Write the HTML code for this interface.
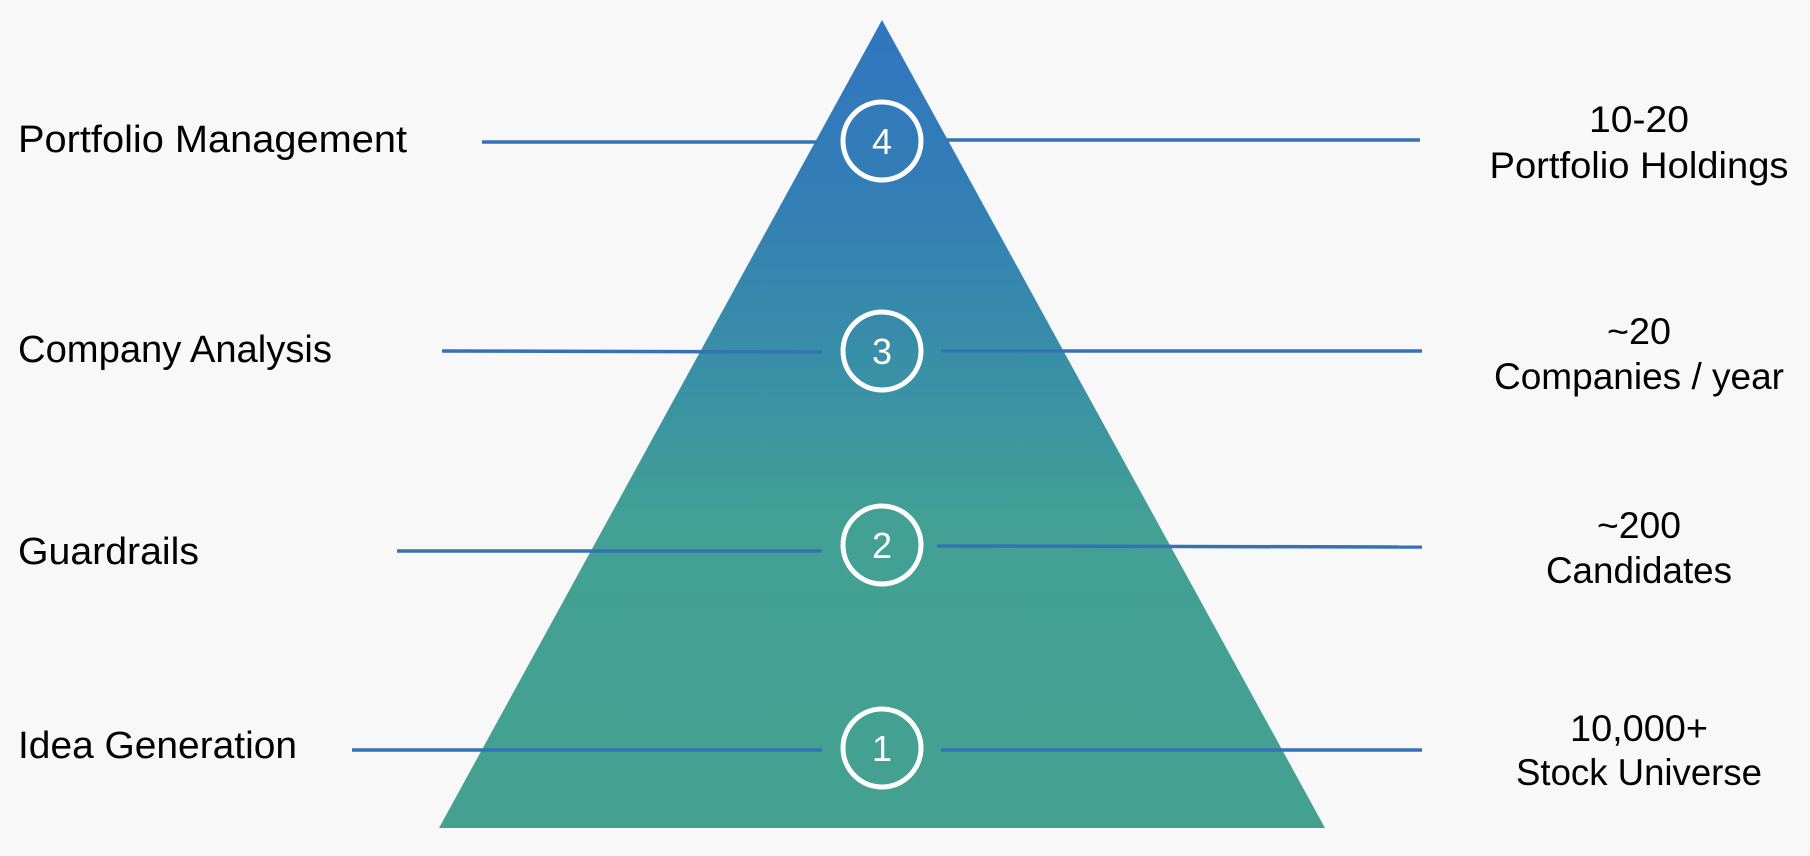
<!DOCTYPE html>
<html><head><meta charset="utf-8"><style>
html,body{margin:0;padding:0;background:#f8f8f8;}
svg{display:block}
text{font-family:"Liberation Sans",sans-serif;}
</style></head><body>
<svg width="1810" height="856" viewBox="0 0 1810 856" xmlns="http://www.w3.org/2000/svg">
<defs>
<linearGradient id="g" x1="0" y1="20" x2="0" y2="828" gradientUnits="userSpaceOnUse">
<stop offset="0" stop-color="#3176be"/>
<stop offset="0.2" stop-color="#337db7"/>
<stop offset="0.45" stop-color="#3a91a5"/>
<stop offset="0.62" stop-color="#42a094"/>
<stop offset="1" stop-color="#44a191"/>
</linearGradient>
</defs>
<rect width="1810" height="856" fill="#f8f8f8"/>
<polygon points="882,20 439,828 1325,828" fill="url(#g)"/>
<g stroke="#3472b5" stroke-width="3.5">
<line x1="482" y1="142" x2="817" y2="142"/><line x1="947" y1="140" x2="1420" y2="140"/>
<line x1="442" y1="351" x2="822" y2="352"/><line x1="941" y1="351" x2="1422" y2="351"/>
<line x1="397" y1="551" x2="822" y2="551"/><line x1="937" y1="546" x2="1422" y2="547"/>
<line x1="352" y1="750" x2="822" y2="750"/><line x1="941" y1="750" x2="1422" y2="750"/>
</g>
<g fill="none" stroke="#fff" stroke-width="5">
<circle cx="882" cy="141" r="39"/><circle cx="882" cy="351" r="39"/>
<circle cx="882" cy="545" r="39"/><circle cx="882" cy="748" r="39"/>
</g>
<g fill="#fff" font-size="36" text-anchor="middle">
<text x="882" y="154">4</text><text x="882" y="364">3</text>
<text x="882" y="558">2</text><text x="882" y="761">1</text>
</g>
<g fill="#000" font-size="38">
<text x="18" y="152" textLength="389" lengthAdjust="spacingAndGlyphs">Portfolio Management</text>
<text x="18" y="362" textLength="314" lengthAdjust="spacingAndGlyphs">Company Analysis</text>
<text x="18" y="564" textLength="181" lengthAdjust="spacingAndGlyphs">Guardrails</text>
<text x="18" y="758" textLength="279" lengthAdjust="spacingAndGlyphs">Idea Generation</text>
</g>
<g fill="#000" font-size="37" text-anchor="middle">
<text x="1639" y="132" textLength="100" lengthAdjust="spacingAndGlyphs">10-20</text>
<text x="1639" y="178" textLength="299" lengthAdjust="spacingAndGlyphs">Portfolio Holdings</text>
<text x="1639" y="344" textLength="64" lengthAdjust="spacingAndGlyphs">~20</text>
<text x="1639" y="389" textLength="290" lengthAdjust="spacingAndGlyphs">Companies / year</text>
<text x="1639" y="538" textLength="84" lengthAdjust="spacingAndGlyphs">~200</text>
<text x="1639" y="583" textLength="186" lengthAdjust="spacingAndGlyphs">Candidates</text>
<text x="1639" y="741" textLength="138" lengthAdjust="spacingAndGlyphs">10,000+</text>
<text x="1639" y="785" textLength="246" lengthAdjust="spacingAndGlyphs">Stock Universe</text>
</g>
</svg>
</body></html>
